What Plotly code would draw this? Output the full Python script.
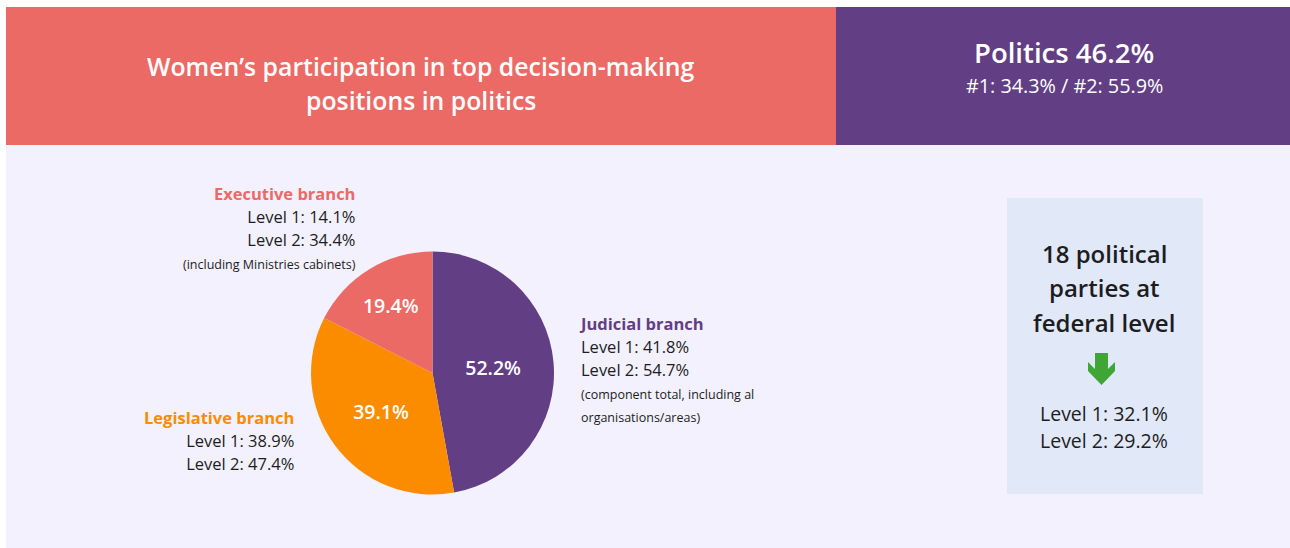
import plotly.graph_objects as go

W, H = 1290, 548

branches = ["Judicial branch", "Legislative branch", "Executive branch"]
shares = [52.2, 39.1, 19.4]
level1 = [41.8, 38.9, 14.1]
level2 = [54.7, 47.4, 34.4]
notes = [["(component total, including al", "organisations/areas)"], [], ["(including Ministries cabinets)"]]
colors = ["#623f84", "#fb8c00", "#ec6a65"]

title_lines = ["Women’s participation in top decision-making", "positions in politics"]
politics_total = 46.2
politics_l1 = 34.3
politics_l2 = 55.9
parties_lines = ["18 political", "parties at", "federal level"]
parties_l1 = 32.1
parties_l2 = 29.2

FONT = "Open Sans"
DARK = "#1d1d1f"


def px(x):
    return x / W


def py(y):
    return 1 - y / H


fig = go.Figure()

# pie
cx, cy, r = 432.5, 373, 121.5
fig.add_trace(go.Pie(
    values=shares, labels=branches, sort=False, direction="clockwise", rotation=0,
    marker=dict(colors=colors, line=dict(width=0)),
    texttemplate="%{value}%", textposition="inside", insidetextorientation="horizontal",
    textfont=dict(family=FONT, size=19.5, color="white", weight=600),
    hoverinfo="label+value", showlegend=False,
    domain=dict(x=[px(cx - r), px(cx + r)], y=[py(cy + r), py(cy - r)]),
))

shapes = []
shapes.append(dict(type="rect", xref="paper", yref="paper", x0=px(6), x1=px(1290), y0=py(548), y1=py(145),
                   fillcolor="#f3f1fe", line=dict(width=0), layer="below"))
shapes.append(dict(type="rect", xref="paper", yref="paper", x0=px(6), x1=px(836), y0=py(145), y1=py(7),
                   fillcolor="#ec6a65", line=dict(width=0), layer="below"))
shapes.append(dict(type="rect", xref="paper", yref="paper", x0=px(836), x1=px(1290), y0=py(145), y1=py(7),
                   fillcolor="#623f84", line=dict(width=0), layer="below"))
shapes.append(dict(type="rect", xref="paper", yref="paper", x0=px(1007), x1=px(1203), y0=py(494), y1=py(198),
                   fillcolor="#e1e8f8", line=dict(width=0), layer="below"))
pts = [(1095, 353), (1108, 353), (1108, 369), (1115, 362), (1115, 371), (1101.5, 385),
       (1088, 371), (1088, 362), (1095, 369)]
path = "M " + " L ".join(f"{px(x):.5f},{py(y):.5f}" for x, y in pts) + " Z"
shapes.append(dict(type="path", xref="paper", yref="paper", path=path, fillcolor="#3fa535", line=dict(width=0)))

ann = []


def t(x, y, text, size, color=DARK, weight="normal", xanchor="center"):
    ann.append(dict(x=px(x), y=py(y), xref="paper", yref="paper", text=text, showarrow=False,
                    xanchor=xanchor, yanchor="middle", align=xanchor if xanchor != "center" else "center",
                    font=dict(family=FONT, size=size, color=color, weight=weight)))


def block(x, y_first, i, xanchor):
    base = 17.6
    spacing = base * 1.3
    lines = [f'<span style="font-size:16.5px;font-weight:700;color:{colors[i]}">{branches[i]}</span>',
             f'<span style="font-size:16.5px">Level 1: {level1[i]}%</span>',
             f'<span style="font-size:16.5px">Level 2: {level2[i]}%</span>']
    lines += [f'<span style="font-size:12.5px">{n}</span>' for n in notes[i]]
    n = len(lines)
    yc = y_first + spacing * (n - 1) / 2
    t(x, yc, "<br>".join(lines), base, DARK, "normal", xanchor)


t(421, 66, title_lines[0], 24.8, "white", 600)
t(421, 100, title_lines[1], 24.8, "white", 600)
t(1064, 52, f"Politics {politics_total}%", 27.5, "white", 600)
t(1064, 85, f"#1: {politics_l1}% / #2: {politics_l2}%", 19.8, "white")

block(358, 193, 2, "right")
block(577, 323, 0, "left")
block(296, 418, 1, "right")

# parties box
for k, line in enumerate(parties_lines):
    t(1104, 253 + 34.5 * k, line, 24, DARK, 600)
t(1104, 413, f"Level 1: {parties_l1}%", 19.5, DARK)
t(1104, 440, f"Level 2: {parties_l2}%", 19.5, DARK)

fig.update_layout(width=W, height=H, margin=dict(l=0, r=0, t=0, b=0),
                  paper_bgcolor="white", plot_bgcolor="white",
                  shapes=shapes, annotations=ann)
fig.write_html("out.html")
